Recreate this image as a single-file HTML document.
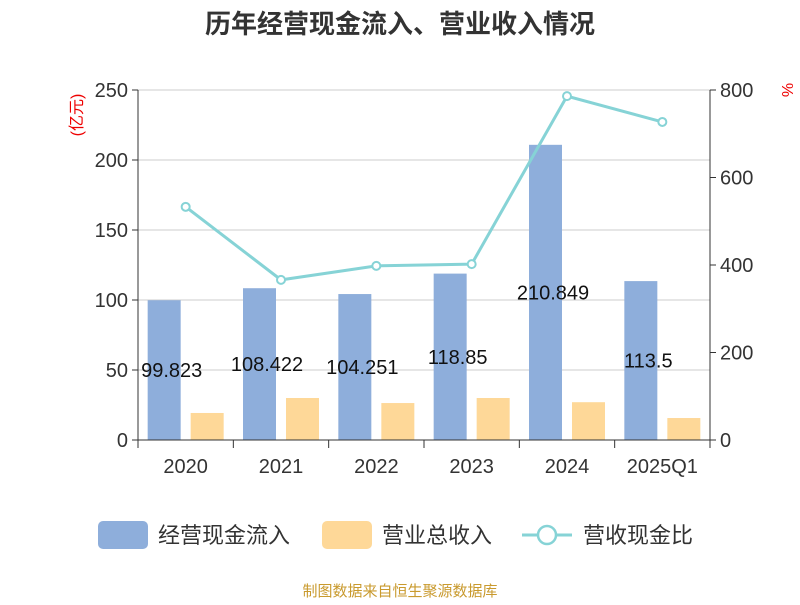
<!DOCTYPE html>
<html><head><meta charset="utf-8"><style>
body{margin:0;background:#fff;}
svg text{font-family:"Liberation Sans","Noto Sans CJK SC",sans-serif;}
</style></head><body>
<svg id="chart" width="800" height="600" viewBox="0 0 800 600">
<text x="400" y="33" text-anchor="middle" font-size="26" font-weight="bold" fill="#333">历年经营现金流入、营业收入情况</text>
<g id="grid"></g><g id="bars"></g><g id="line"></g><g id="axes"></g><g id="labels"></g>
<text transform="translate(82,115) rotate(-90)" text-anchor="middle" font-size="16" fill="#e00">(亿元)</text>
<text transform="translate(782,90) rotate(90)" text-anchor="middle" font-size="16" fill="#e00">%</text>
<g>
<rect x="98" y="521" width="50" height="28" rx="5" fill="#8eaedb"/>
<text x="158" y="543" font-size="22" fill="#333">经营现金流入</text>
<rect x="322" y="521" width="50" height="28" rx="5" fill="#fed898"/>
<text x="382" y="543" font-size="22" fill="#333">营业总收入</text>
<line x1="522" y1="535" x2="572" y2="535" stroke="#86d3d6" stroke-width="3"/>
<circle cx="547" cy="535" r="9" fill="#fff" stroke="#86d3d6" stroke-width="2.5"/>
<text x="583" y="543" font-size="22" fill="#333">营收现金比</text>
</g>
<text x="400" y="596" text-anchor="middle" font-size="15" fill="#c99a2e">制图数据来自恒生聚源数据库</text>
</svg>
<script>
const categories=["2020","2021","2022","2023","2024","2025Q1"];
const cashInflow=[99.823,108.422,104.251,118.85,210.849,113.5];
const revenue=[19.3,30,26.4,30,27,15.7];
const ratio=[533,366,398,402,786,727];
const leftTicks=[0,50,100,150,200,250];
const rightTicks=[0,200,400,600,800];
const NS="http://www.w3.org/2000/svg";
const X0=138,X1=710,Y0=440,Y1=90;
const bw=(X1-X0)/categories.length;
const yL=v=>Y0-(v/250)*(Y0-Y1);
const yR=v=>Y0-(v/800)*(Y0-Y1);
const xC=i=>X0+bw*(i+0.5);
function mk(p,tag,a){const e=document.createElementNS(NS,tag);for(const k in a)e.setAttribute(k,a[k]);document.getElementById(p).appendChild(e);return e;}
leftTicks.forEach(t=>{
 const y=yL(t);
 const g=mk("grid","line",{x1:X0,x2:X1,y1:y,y2:y,stroke:"#ccc","stroke-width":1});
 
 
 const tk=mk("axes","line",{x1:X0-6,x2:X0,y1:y,y2:y,stroke:"#333"});
 
 
 const tx=mk("axes","text",{x:X0-10,y:y+7,"text-anchor":"end","font-size":20,fill:"#333"});
 tx.textContent=t;
 
 
});
rightTicks.forEach(t=>{
 const y=yR(t);
 const tk=mk("axes","line",{x1:X1,x2:X1+6,y1:y,y2:y,stroke:"#333"});
 
 
 const tx=mk("axes","text",{x:X1+10,y:y+7,"font-size":20,fill:"#333"});
 tx.textContent=t;
 
 
});
let a=mk("axes","line",{x1:X0,x2:X0,y1:Y1,y2:Y0,stroke:"#333"});


a=mk("axes","line",{x1:X1,x2:X1,y1:Y1,y2:Y0,stroke:"#333"});


a=mk("axes","line",{x1:X0,x2:X1,y1:Y0,y2:Y0,stroke:"#333"});


for(let i=0;i<=categories.length;i++){
 const x=X0+bw*i;
 const tk=mk("axes","line",{x1:x,x2:x,y1:Y0,y2:Y0+8,stroke:"#333"});
 
 
}
categories.forEach((c,i)=>{
 const cx=xC(i);
 const b=mk("bars","rect",{x:cx-38,y:yL(cashInflow[i]),width:33,height:Y0-yL(cashInflow[i]),fill:"#8eaedb"});
 
 
 const r=mk("bars","rect",{x:cx+5,y:yL(revenue[i]),width:33,height:Y0-yL(revenue[i]),fill:"#fed898"});
 
 
 const lb=mk("labels","text",{x:cx-14,y:(yL(cashInflow[i])+Y0)/2+7,"text-anchor":"middle","font-size":20,fill:"#111"});
 lb.textContent=cashInflow[i];
 
 
 const xl=mk("axes","text",{x:cx,y:Y0+33,"text-anchor":"middle","font-size":20,fill:"#333"});
 xl.textContent=c;
 
 
});
const pl=mk("line","polyline",{points:ratio.map((v,i)=>xC(i)+","+yR(v)).join(" "),fill:"none",stroke:"#86d3d6","stroke-width":3});


ratio.forEach((v,i)=>{
 const p=mk("line","circle",{cx:xC(i),cy:yR(v),r:4,fill:"#fff",stroke:"#86d3d6","stroke-width":2});
 
 
});
</script>
</body></html>
